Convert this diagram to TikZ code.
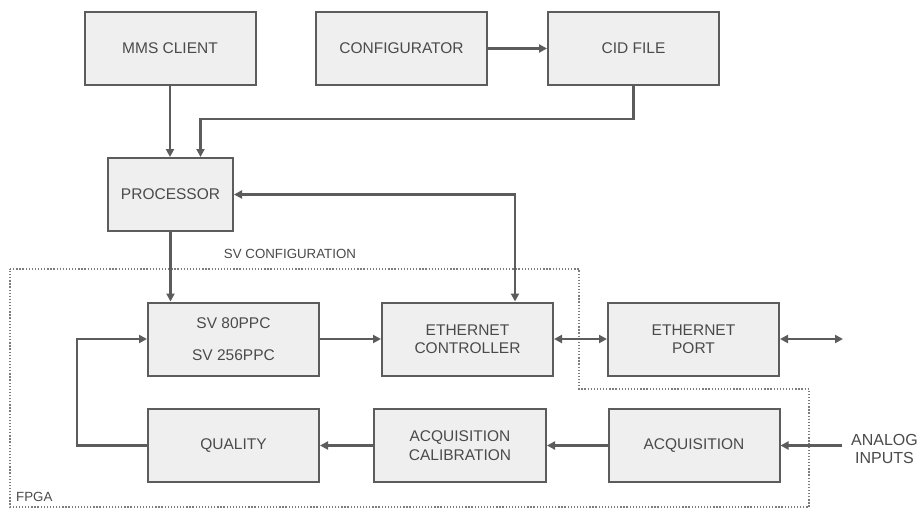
\documentclass[tikz,border=0pt]{standalone}
\usepackage{fontspec}
\setmainfont{Liberation Sans}
\usetikzlibrary{arrows.meta}
\definecolor{linegray}{HTML}{5C5C5C}
\definecolor{boxfill}{HTML}{EFEFEF}
\definecolor{txtgray}{HTML}{4A4A4A}
\tikzset{
  block/.style={draw=linegray, line width=2pt, fill=boxfill, minimum width=171pt,
    minimum height=73pt, inner sep=0pt, text=txtgray, align=center,
    font=\fontsize{15.5}{18.5}\selectfont},
  conn/.style={draw=linegray, line width=2.2pt,
    -{Triangle[length=8pt,width=8pt]}},
  biconn/.style={draw=linegray, line width=2.2pt,
    {Triangle[length=8pt,width=8pt]}-{Triangle[length=8pt,width=8pt]}},
  boundary/.style={draw=linegray!80, line width=1.2pt, dash pattern=on 1.3pt off 1.8pt},
  caption/.style={text=txtgray, inner sep=0pt, font=\fontsize{13.3}{15}\selectfont}
}
\begin{document}
\begin{tikzpicture}[x=1pt,y=-1pt]
  \useasboundingbox[fill=white] (0,0) rectangle (919,509);

  % FPGA boundary
  \draw[boundary] (10,269) -- (579,269) -- (579,389) -- (809,389) -- (809,507) -- (10,507) -- cycle;
  \node[caption, anchor=west] (fpga) at (16,497) {FPGA};
  \node[caption] (svconf) at (290,254) {SV CONFIGURATION};

  % blocks
  \node[block] (mms) at (170,48.5) {MMS CLIENT};
  \node[block] (conf) at (401.5,48.5) {CONFIGURATOR};
  \node[block] (cid) at (633.5,48.5) {CID FILE};
  \node[block, minimum width=125pt] (proc) at (170.5,194.5) {PROCESSOR};
  \node[block] (sv) at (233.5,339) {SV 80PPC\\[14pt]SV 256PPC};
  \node[block] (ectl) at (467.5,339) {ETHERNET\\CONTROLLER};
  \node[block] (eport) at (693.5,339) {ETHERNET\\PORT};
  \node[block] (qual) at (233.5,445.5) {QUALITY};
  \node[block, minimum width=172pt] (acal) at (460,445.5) {ACQUISITION\\CALIBRATION};
  \node[block] (acq) at (694,445.5) {ACQUISITION};

  \node[text=txtgray, align=center, inner sep=0pt, font=\fontsize{16}{18}\selectfont] (analog) at (884.5,449) {ANALOG\\INPUTS};

  \coordinate (eout) at (843,339);
  \coordinate (ain) at (842,446);

  % connectors
  \draw[conn] (conf.east) -- (cid.west);
  \draw[conn] (mms.south) -- (mms.south |- proc.north);
  \draw[conn] (cid.south) -- ++(0,33) -| ([xshift=30pt]proc.north);
  \draw[biconn] (proc.east) -| ([xshift=47.5pt]ectl.north);
  \draw[conn] (proc.south) -- (proc.south |- sv.north);
  \draw[conn] (sv.east) -- (ectl.west);
  \draw[biconn] (ectl.east) -- (eport.west);
  \draw[biconn] (eport.east) -- (eout);
  \draw[conn] (ain |- acq.east) -- (acq.east);
  \draw[conn] (acq.west) -- (acal.east);
  \draw[conn] (acal.west) -- (qual.east);
  \draw[conn] (qual.west) -- ++(-70,0) |- (sv.west);
\end{tikzpicture}
\end{document}
